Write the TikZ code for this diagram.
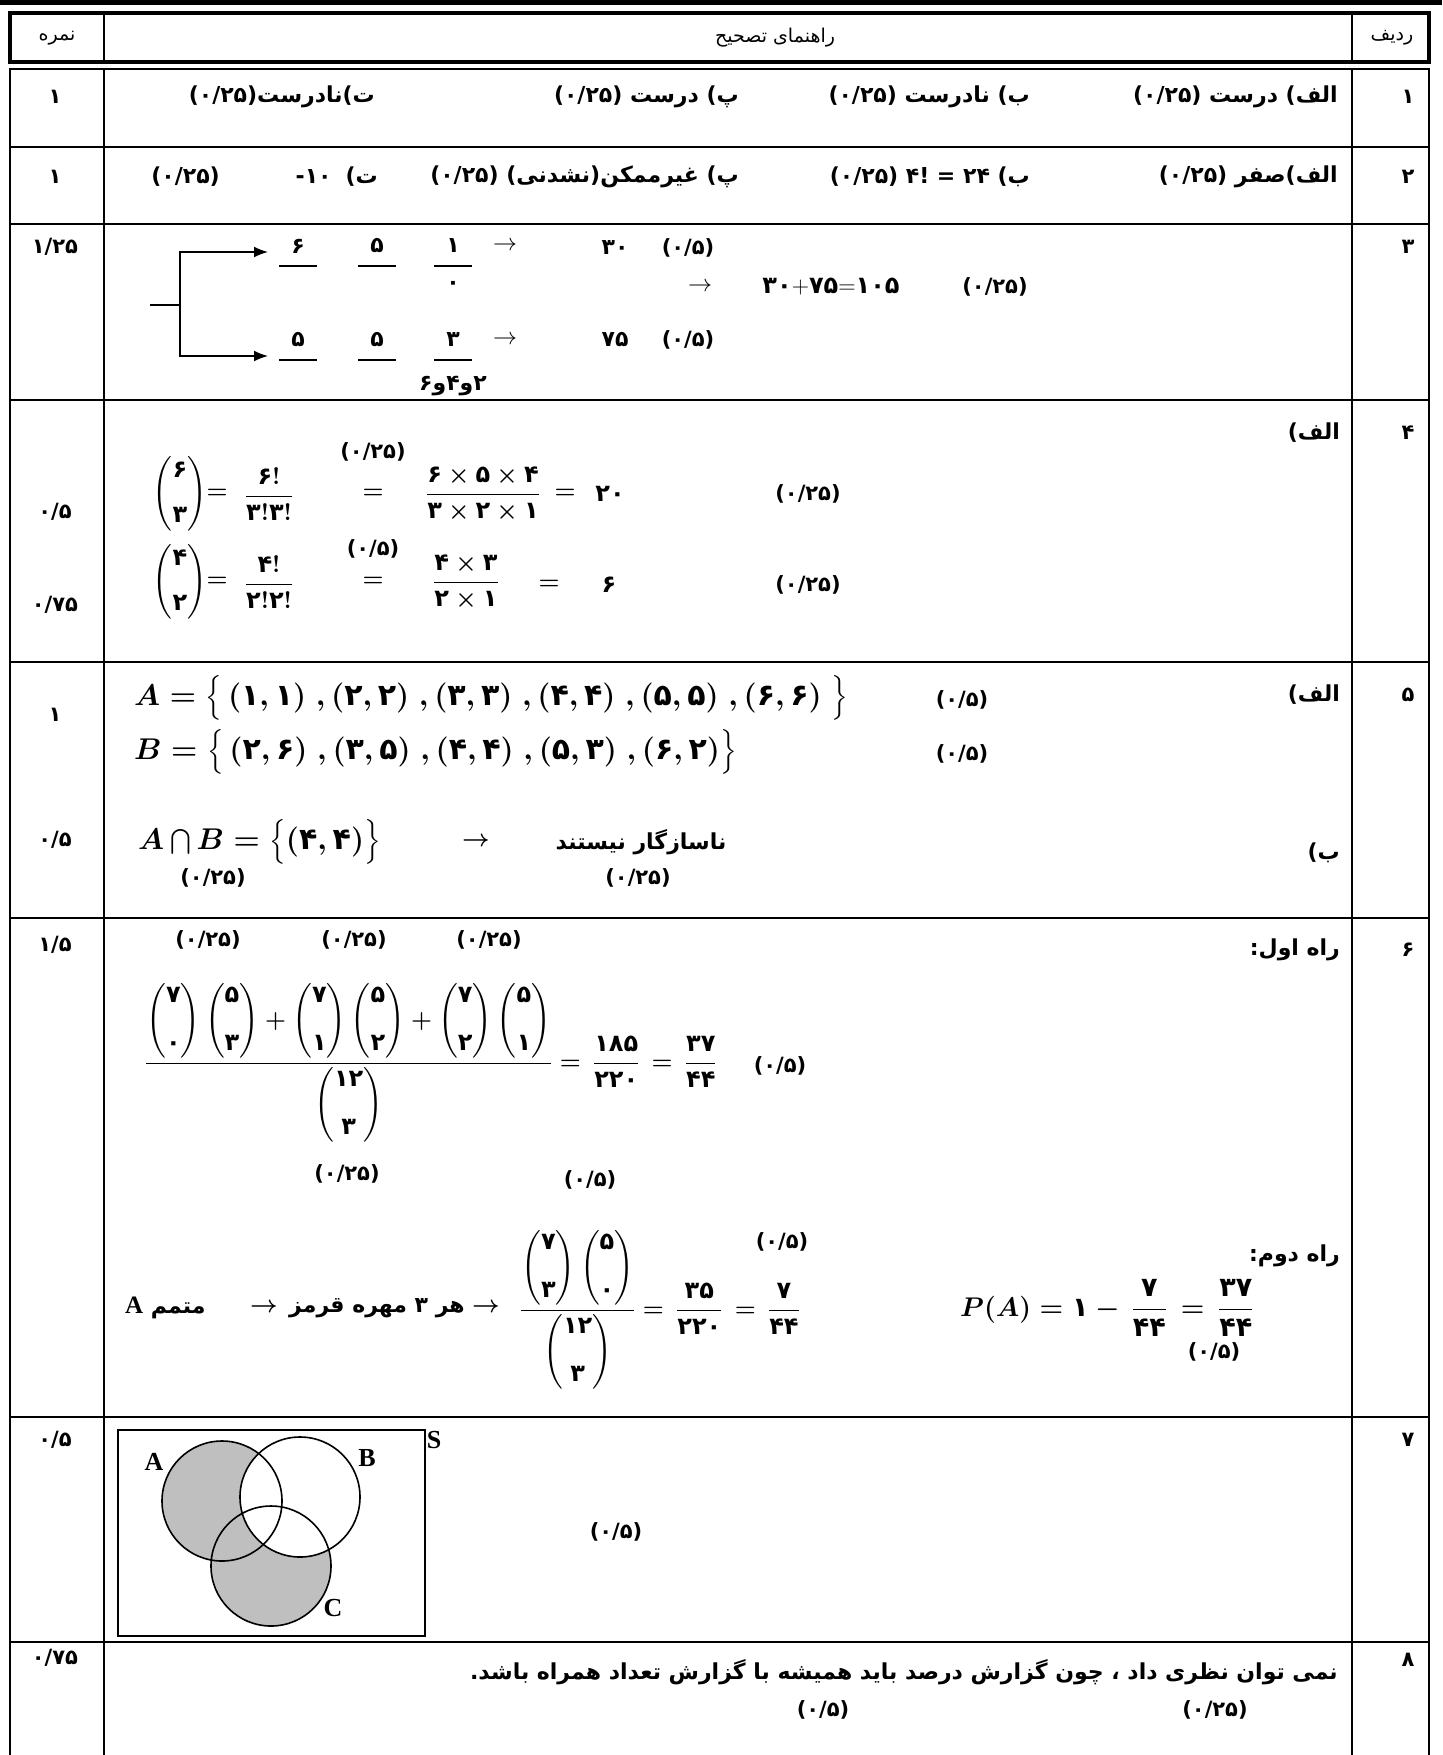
\RequirePackage{fix-cm}
\documentclass[tikz,border=0pt]{standalone}
\usepackage{amsmath}
\usepackage{fontspec}
\setmainfont{Liberation Serif}
\newfontfamily\pf[Script=Arabic]{DejaVu Sans}
\TeXXeTstate=1
\usetikzlibrary{positioning}
\usetikzlibrary{arrows.meta}
\newcommand\dg[1]{\text{\pf\bfseries #1}}
\newcommand\fa[1]{\beginR #1\endR}
\newcommand\bn[3][10pt]{\left(\begin{matrix}\dg{#2}\\[#1]\dg{#3}\end{matrix}\right)}
\tikzset{
  grid/.style={line width=2.5pt},
  fa/.style={font=\pf\bfseries\fontsize{22}{26}\selectfont, inner sep=0pt},
  hd/.style={font=\pf\fontsize{19}{23}\selectfont, inner sep=0pt},
  sc/.style={font=\pf\bfseries\fontsize{21}{25}\selectfont, inner sep=0pt},
  eq/.style={font=\fontsize{24}{29}\selectfont\boldmath, inner sep=0pt},
  set/.style={font=\fontsize{30}{36}\selectfont\boldmath, inner sep=0pt, anchor=west},
  vlabel/.style={font=\bfseries\fontsize{26}{30}\selectfont, inner sep=0pt},
  vset/.style={line width=1.6pt},
  >={Latex[length=14pt,width=11pt]},
}

\begin{document}
\begin{tikzpicture}[x=1pt,y=-1pt]
\useasboundingbox (0,0) rectangle (1442,1755);

% Frame of the table
\fill (0,0) rectangle (1442,5);
\draw[line width=4pt] (10,13) rectangle (1429,62);
\draw[grid] (104,13) -- (104,62) (1352,13) -- (1352,62);
\draw[grid] (10,1755) -- (10,69) -- (1429,69) -- (1429,1755);
\draw[grid] (104,69) -- (104,1755) (1352,69) -- (1352,1755);
\foreach \y in {147,224,400,662,918,1417,1642}
  \draw[grid] (10,\y) -- (1429,\y);

% Header
\node[hd] (hMark) at (57,38) {\fa{نمره}};
\node[hd] (hGuide) at (775,38) {\fa{راهنمای تصحیح}};
\node[hd] (hRow) at (1392,38) {\fa{ردیف}};

% Row numbers and marks
\foreach \n/\y [count=\i] in {۱/97,۲/177,۳/247,۴/433,۵/695,۶/950,۷/1440,۸/1660}
  \node[sc] (row\i) at (1408,\y) {\n};
\foreach \s/\y [count=\i] in {{۱}/97,{۱}/177,{۱/۲۵}/247,{۰/۵}/512,{۰/۷۵}/605,{۱}/715,{۰/۵}/840,{۱/۵}/945,{۰/۵}/1440,{۰/۷۵}/1658}
  \node[sc] (mark\i) at (55,\y) {\s};

% Row 1
\node[fa,anchor=east] (r1a) at (1338,97) {\fa{الف) درست (۰/۲۵)}};
\node[fa,anchor=east] (r1b) at (1030,97) {\fa{ب) نادرست (۰/۲۵)}};
\node[fa,anchor=east] (r1c) at (739,97) {\fa{پ) درست (۰/۲۵)}};
\node[fa,anchor=east] (r1d) at (375,97) {\fa{ت)نادرست(۰/۲۵)}};

% Row 2
\node[fa,anchor=east] (r2a) at (1338,177) {\fa{الف)صفر (۰/۲۵)}};
\node[fa,anchor=east] (r2b) at (1030,177) {\fa{ب) ۲۴ = !۴ (۰/۲۵)}};
\node[fa,anchor=east] (r2c) at (739,177) {\fa{پ) غیرممکن(نشدنی) (۰/۲۵)}};
\node[fa,anchor=east] (r2d) at (378,177) {\fa{ت)\hspace{14pt}۱۰-}};
\node[fa,anchor=east] (r2e) at (220,177) {(۰/۲۵)};

% Row 3: counting tree
\coordinate (stub) at (150,305);
\coordinate (fork) at (180,305);
\coordinate (up) at (268,252);
\coordinate (dn) at (268,356);
\draw[line width=2.2pt] (stub) -- (fork);
\draw[line width=1.6pt,->] (fork) |- (up);
\draw[line width=1.6pt,->] (fork) |- (dn);
\foreach \d/\x [count=\i] in {۶/298,۵/377,۱/453}{
  \node[fa] (top\i) at (\x,246) {\d};
  \draw[line width=1.6pt] (\x-19,266) -- (\x+19,266);
}
\foreach \d/\x [count=\i] in {۵/298,۵/377,۳/453}{
  \node[fa] (bot\i) at (\x,340) {\d};
  \draw[line width=1.6pt] (\x-19,360) -- (\x+19,360);
}
\node[fa] (zero) at (453,285) {۰};
\node[fa] (even) at (453,386) {۲و۴و۶};
\node[font=\fontsize{24}{29}\selectfont] (aTop) at (505,246) {$\rightarrow$};
\node[font=\fontsize{24}{29}\selectfont] (aBot) at (505,340) {$\rightarrow$};
\node[font=\fontsize{24}{29}\selectfont] (aMid) at (700,287) {$\rightarrow$};
\node[fa] (n30) at (615,248) {۳۰};
\node[fa] (n75) at (615,340) {۷۵};
\node[sc] (s31) at (688,248) {(۰/۵)};
\node[sc] (s32) at (688,340) {(۰/۵)};
\node[font=\fontsize{24}{28}\selectfont] (sum) at (831,287) {$\dg{۳۰}{+}\dg{۷۵}{=}\dg{۱۰۵}$};
\node[sc] (s33) at (995,287) {(۰/۲۵)};

% Row 4
\node[fa,anchor=east] (r4a) at (1340,433) {\fa{الف)}};
\node[eq] (b63) at (180,494) {$\bn[16pt]{۶}{۳}$};
\node[eq] (e41) at (217,494) {$=$};
\node[eq] (f41) at (269,494) {$\dfrac{\dg{۶}!}{\dg{۳}!\dg{۳}!}$};
\node[eq] (e42) at (373,494) {$=$};
\node[sc] (s41) at (373,452) {(۰/۲۵)};
\node[eq] (f42) at (483,494) {$\dfrac{\dg{۶}\times\dg{۵}\times\dg{۴}}{\dg{۳}\times\dg{۲}\times\dg{۱}}$};
\node[eq] (e43) at (565,494) {$=$};
\node[eq] (n20) at (610,494) {$\dg{۲۰}$};
\node[sc] (s42) at (808,494) {(۰/۲۵)};
\node[eq] (b42) at (180,582) {$\bn[16pt]{۴}{۲}$};
\node[eq] (e44) at (217,582) {$=$};
\node[eq] (f43) at (269,582) {$\dfrac{\dg{۴}!}{\dg{۲}!\dg{۲}!}$};
\node[eq] (e45) at (373,582) {$=$};
\node[sc] (s43) at (373,549) {(۰/۵)};
\node[eq] (f44) at (466,582) {$\dfrac{\dg{۴}\times\dg{۳}}{\dg{۲}\times\dg{۱}}$};
\node[eq] (e46) at (549,585) {$=$};
\node[eq] (n6) at (609,585) {$\dg{۶}$};
\node[sc] (s44) at (808,585) {(۰/۲۵)};

% Row 5
\node[fa,anchor=east] (r5a) at (1340,695) {\fa{الف)}};
\node[fa,anchor=east] (r5b) at (1340,853) {\fa{ب)}};
\node[set] (setA) at (134,698) {$A=\big\{\,(\dg{۱},\dg{۱})\;,(\dg{۲},\dg{۲})\;,(\dg{۳},\dg{۳})\;,(\dg{۴},\dg{۴})\;,(\dg{۵},\dg{۵})\;,(\dg{۶},\dg{۶})\;\big\}$};
\node[set] (setB) at (134,752) {$B=\big\{\,(\dg{۲},\dg{۶})\;,(\dg{۳},\dg{۵})\;,(\dg{۴},\dg{۴})\;,(\dg{۵},\dg{۳})\;,(\dg{۶},\dg{۲})\big\}$};
\node[sc] (s51) at (962,700) {(۰/۵)};
\node[sc] (s52) at (962,754) {(۰/۵)};
\node[set] (cap) at (138,842) {$A\bigcap B=\big\{(\dg{۴},\dg{۴})\big\}$};
\node[eq] (a5) at (476,842) {$\boldsymbol{\rightarrow}$};
\node[fa] (incomp) at (641,842) {\fa{ناسازگار نیستند}};
\node[sc] (s53) at (213,878) {(۰/۲۵)};
\node[sc] (s54) at (638,878) {(۰/۲۵)};

% Row 6: first way
\node[fa,anchor=east] (way1) at (1340,950) {\fa{راه اول:}};
\node[eq,anchor=west] (frac1) at (145,1063) {$\dfrac{\bn[19pt]{۷}{۰}\bn[19pt]{۵}{۳}+\bn[19pt]{۷}{۱}\bn[19pt]{۵}{۲}+\bn[19pt]{۷}{۲}\bn[19pt]{۵}{۱}}{\bn[19pt]{۱۲}{۳}}=\,\dfrac{\dg{۱۸۵}}{\dg{۲۲۰}}\,=\,\dfrac{\dg{۳۷}}{\dg{۴۴}}$};
\node[sc] (s61) at (208,940) {(۰/۲۵)};
\node[sc] (s62) at (354,940) {(۰/۲۵)};
\node[sc] (s63) at (489,940) {(۰/۲۵)};
\node[sc] (s64) at (347,1174) {(۰/۲۵)};
\node[sc] (s65) at (780,1066) {(۰/۵)};

% Row 6: second way
\node[fa,anchor=east] (way2) at (1340,1256) {\fa{راه دوم:}};
\node[fa,anchor=west] (comp) at (125,1308) {{\rmfamily\bfseries\fontsize{25}{30}\selectfont A}\ متمم};
\node[eq] (a61) at (264,1308) {$\boldsymbol{\rightarrow}$};
\node[fa] (red) at (377,1308) {\fa{هر ۳ مهره قرمز}};
\node[eq] (a62) at (486,1308) {$\boldsymbol{\rightarrow}$};
\node[eq,anchor=west] (frac2) at (520,1310) {$\dfrac{\bn[19pt]{۷}{۳}\bn[19pt]{۵}{۰}}{\bn[19pt]{۱۲}{۳}}=\,\dfrac{\dg{۳۵}}{\dg{۲۲۰}}\,=\,\dfrac{\dg{۷}}{\dg{۴۴}}$};
\node[sc] (s66) at (590,1180) {(۰/۵)};
\node[sc] (s67) at (782,1242) {(۰/۵)};
\node[eq,anchor=west,font=\fontsize{27}{32}\selectfont\boldmath] (pA) at (960,1308) {$P(A)=\dg{۱}-\,\dfrac{\dg{۷}}{\dg{۴۴}}\,=\,\dfrac{\dg{۳۷}}{\dg{۴۴}}$};
\node[sc] (s68) at (1214,1352) {(۰/۵)};

% Row 7: Venn diagram
\draw[vset] (118,1430) rectangle (425,1636);
\fill[black!25] (222,1501) circle[radius=60pt];
\fill[black!25] (271,1566) circle[radius=60pt];
\fill[white] (300,1497) circle[radius=60pt];
\draw[vset] (222,1501) circle[radius=60pt];
\draw[vset] (300,1497) circle[radius=60pt];
\draw[vset] (271,1566) circle[radius=60pt];
\node[vlabel] (lA) at (154,1462) {A};
\node[vlabel] (lB) at (367,1458) {B};
\node[vlabel] (lC) at (333,1608) {C};
\node[vlabel] (lS) at (434,1440) {S};
\node[sc] (s71) at (616,1532) {(۰/۵)};

% Row 8
\node[fa,anchor=east] (r8) at (1338,1672) {\fa{نمی توان نظری داد ، چون گزارش درصد باید همیشه با گزارش تعداد همراه باشد.}};
\node[sc] (s81) at (823,1710) {(۰/۵)};
\node[sc] (s82) at (1215,1710) {(۰/۲۵)};

\end{tikzpicture}
\end{document}
